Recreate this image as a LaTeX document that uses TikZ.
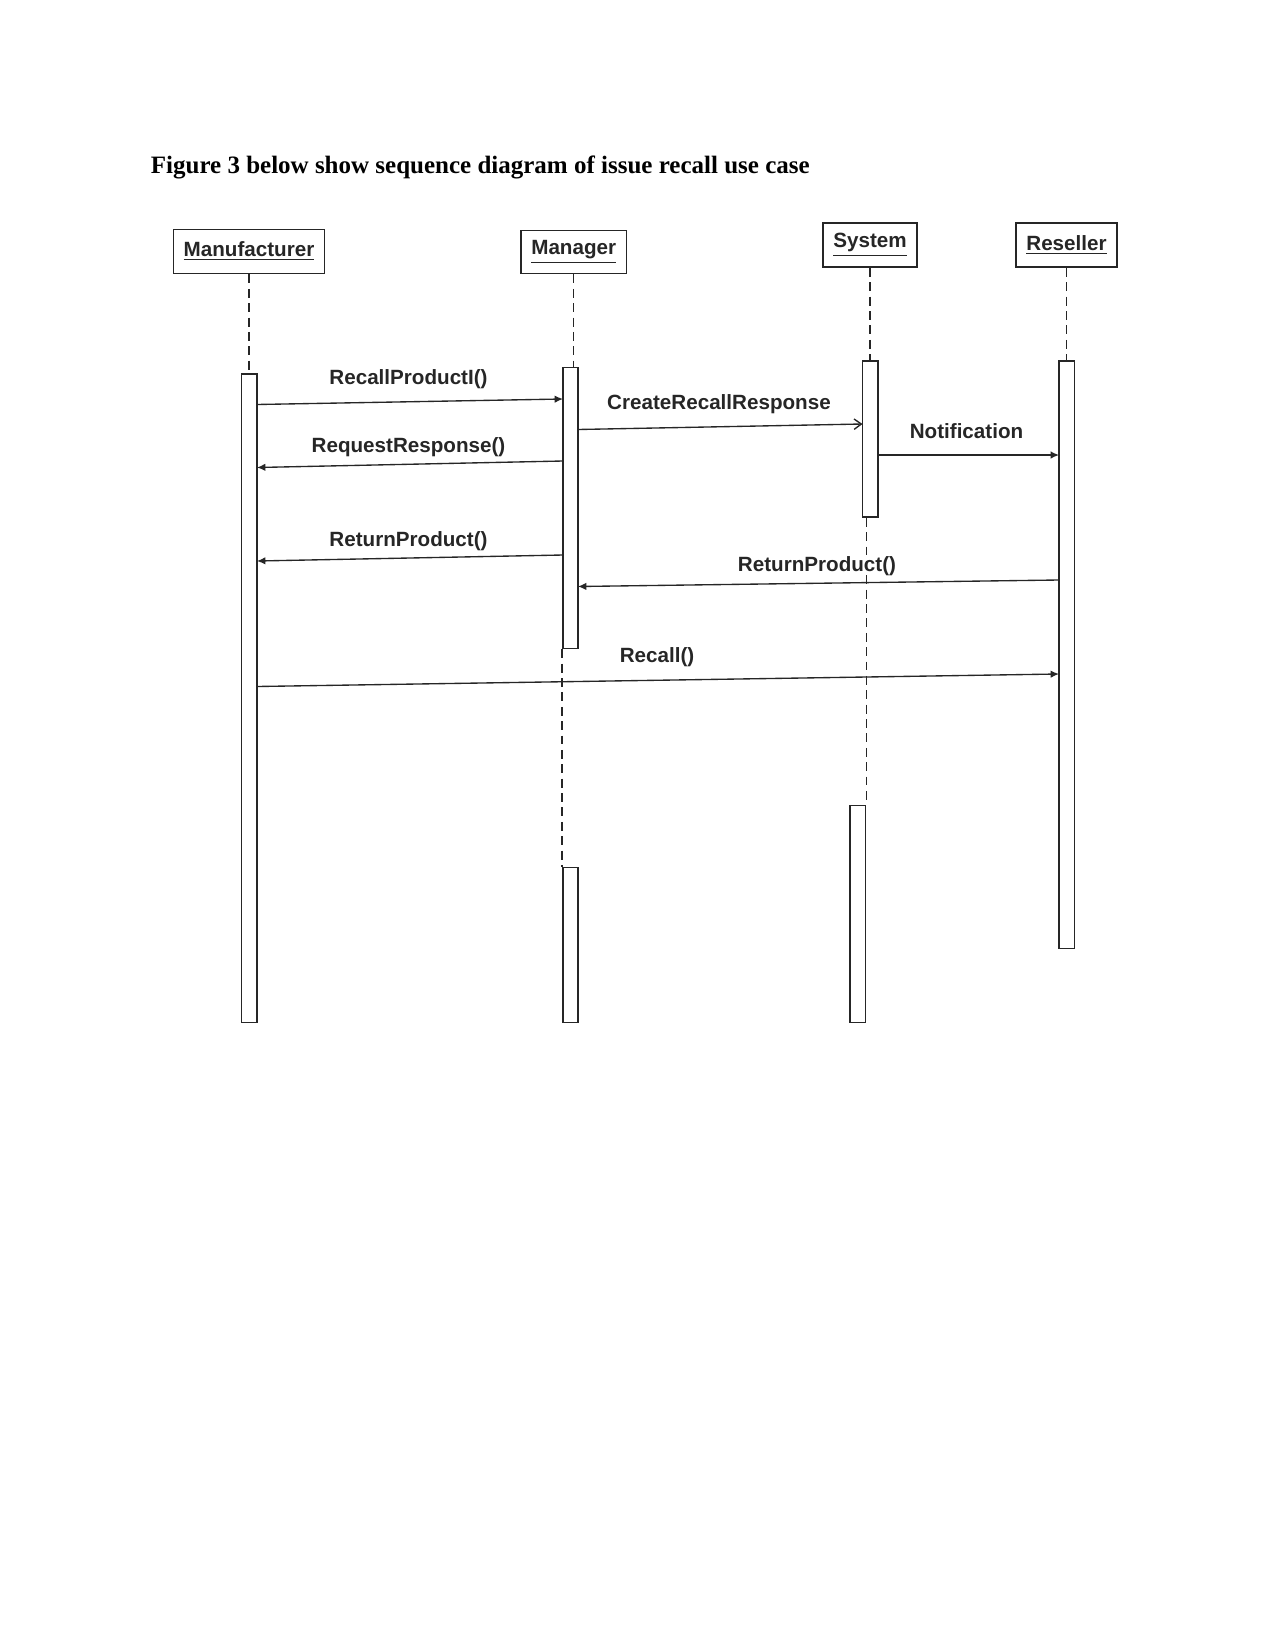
\documentclass[tikz,border=0pt]{standalone}
\usepackage{fontspec}
\setmainfont{Liberation Serif}
\setsansfont{Liberation Sans}
\usetikzlibrary{arrows.meta,fit}
\definecolor{ink}{HTML}{262626}
\tikzset{
  head/.style={draw=ink, line width=0.9pt, inner sep=0pt, rectangle},
  actbar/.style={draw=ink, line width=0.75pt, inner sep=0pt, rectangle, fill=white},
  life/.style={draw=ink, line width=0.7pt, dash pattern=on 4.3pt off 2.6pt},
  msg/.style={draw=ink, line width=0.65pt, -{Latex[length=4pt,width=3.6pt]}},
  omsg/.style={draw=ink, line width=0.65pt, -{Straight Barb[length=3.5pt,width=5pt]}},
  lbl/.style={text=ink, inner sep=0pt, font=\sffamily\bfseries\fontsize{9.9}{12}\selectfont},
}
\begin{document}
\begin{tikzpicture}[x=0.48pt,y=-0.48pt]
\useasboundingbox (0,0) rectangle (1275,1651);

% title
\node[anchor=base west, inner sep=0pt, font=\bfseries\fontsize{12}{14}\selectfont] (title) at (150.5,173.5)
  {Figure 3 below show sequence diagram of issue recall use case};

% lifeline heads
\node[head, fit={(173.5,229.5) (324.5,273.5)}] (hA) {};
\node[head, fit={(521,230.5) (626.5,273.5)}] (hB) {};
\node[head, fit={(823,223) (917,267)}] (hC) {};
\node[head, fit={(1016,223) (1117,267)}] (hD) {};
\node[lbl] (tA) at (hA.center) {\underline{Manufacturer}};
\node[lbl] (tB) at (hB.center) {\underline{Manager}};
\node[lbl] (tC) at (hC.center) {\underline{System}};
\node[lbl] (tD) at (hD.center) {\underline{Reseller}};

% activation bars
\node[actbar, fit={(241.5,374) (257,1022.5)}] (aA) {};
\node[actbar, fit={(563,367.5) (578,648.5)}] (aB1) {};
\node[actbar, fit={(563,867.5) (578,1022.5)}] (aB2) {};
\node[actbar, fit={(862.5,361) (878,517)}] (aC1) {};
\node[actbar, fit={(850,805.5) (865.5,1022.5)}] (aC2) {};
\node[actbar, fit={(1059,361) (1074.5,948.5)}] (aD) {};

% lifelines
\draw[life] (hA.south) -- (hA.south |- aA.north);
\draw[life] (hB.south) -- (hB.south |- aB1.north);
\draw[life] (aB1.south west) -- (aB2.north west);
\draw[life] (hC.south) -- (hC.south |- aC1.north);
\draw[life] (aC2.north east |- aC1.south) -- (aC2.north east);
\draw[life] (hD.south) -- (hD.south |- aD.north);

% message end points
\coordinate (m1s) at (257,404.5);   \coordinate (m1e) at (563,399);
\coordinate (m2s) at (578,429.5);   \coordinate (m2e) at (862.5,424);
\coordinate (m3s) at (878,455);     \coordinate (m3e) at (1059,455);
\coordinate (m4s) at (563,461);     \coordinate (m4e) at (257,467.5);
\coordinate (m5s) at (563,555);     \coordinate (m5e) at (257,561);
\coordinate (m6s) at (1059,580);    \coordinate (m6e) at (578,586.5);
\coordinate (m7s) at (257,686.5);   \coordinate (m7e) at (1059,674);

% messages
\draw[msg]  (m1s) -- (m1e);
\draw[omsg] (m2s) -- (m2e);
\draw[msg]  (m3s) -- (m3e);
\draw[msg]  (m4s) -- (m4e);
\draw[msg]  (m5s) -- (m5e);
\draw[msg]  (m6s) -- (m6e);
\draw[msg]  (m7s) -- (m7e);

% labels
\node[lbl] (l1) at (408.5,379) {RecallProductI()};
\node[lbl] (l2) at (719,404) {CreateRecallResponse};
\node[lbl] (l3) at (966.5,431) {Notification};
\node[lbl] (l4) at (408.5,447.5) {RequestResponse()};
\node[lbl] (l5) at (408.5,541) {ReturnProduct()};
\node[lbl] (l6) at (817,566) {ReturnProduct()};
\node[lbl] (l7) at (657,657) {Recall()};
\end{tikzpicture}
\end{document}
